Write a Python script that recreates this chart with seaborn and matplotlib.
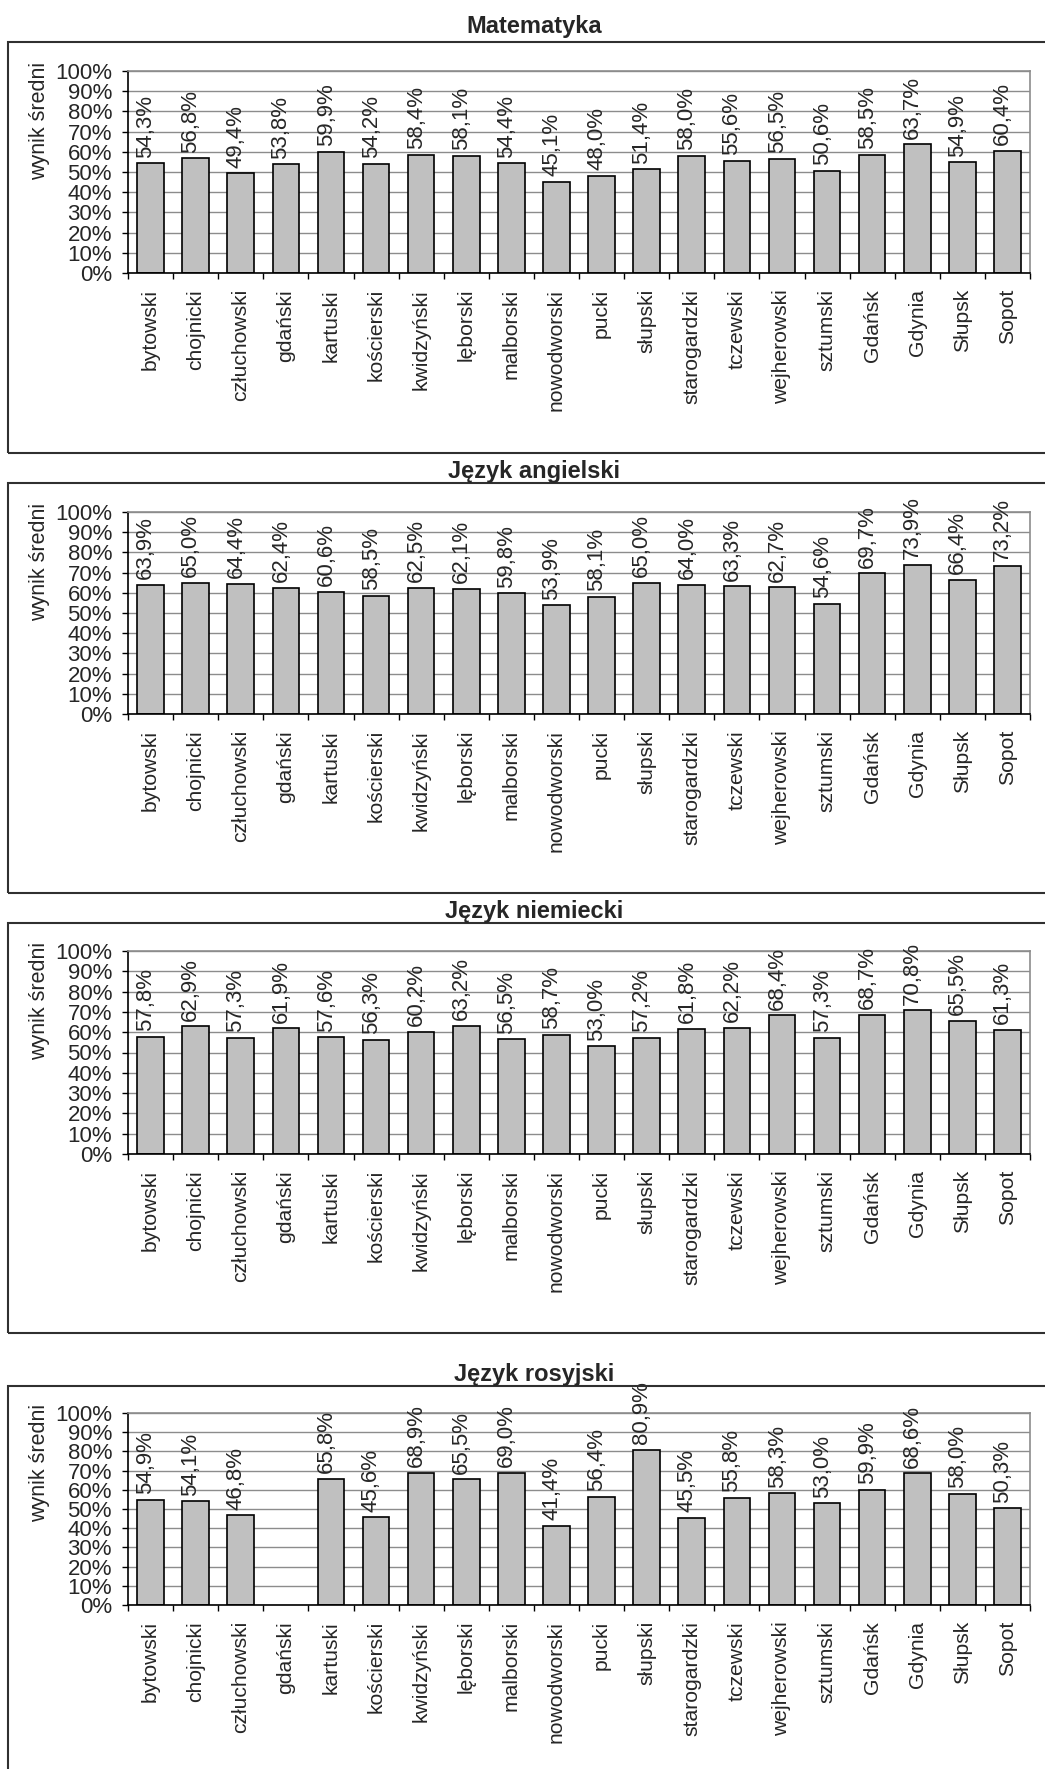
import numpy as np
import pandas as pd
import matplotlib
matplotlib.use("Agg")
import matplotlib.pyplot as plt
import seaborn as sns
from matplotlib.patches import Rectangle
from matplotlib.ticker import FuncFormatter

# Dane
POWIATY = ["bytowski", "chojnicki", "człuchowski", "gdański", "kartuski",
           "kościerski", "kwidzyński", "lęborski", "malborski", "nowodworski",
           "pucki", "słupski", "starogardzki", "tczewski", "wejherowski",
           "sztumski", "Gdańsk", "Gdynia", "Słupsk", "Sopot"]

MATEMATYKA = [54.3, 56.8, 49.4, 53.8, 59.9, 54.2, 58.4, 58.1, 54.4, 45.1,
              48.0, 51.4, 58.0, 55.6, 56.5, 50.6, 58.5, 63.7, 54.9, 60.4]
ANGIELSKI = [63.9, 65.0, 64.4, 62.4, 60.6, 58.5, 62.5, 62.1, 59.8, 53.9,
             58.1, 65.0, 64.0, 63.3, 62.7, 54.6, 69.7, 73.9, 66.4, 73.2]
NIEMIECKI = [57.8, 62.9, 57.3, 61.9, 57.6, 56.3, 60.2, 63.2, 56.5, 58.7,
             53.0, 57.2, 61.8, 62.2, 68.4, 57.3, 68.7, 70.8, 65.5, 61.3]
ROSYJSKI = [54.9, 54.1, 46.8, np.nan, 65.8, 45.6, 68.9, 65.5, 69.0, 41.4,
            56.4, 80.9, 45.5, 55.8, 58.3, 53.0, 59.9, 68.6, 58.0, 50.3]

PRZEDMIOTY = ["Matematyka", "Język angielski", "Język niemiecki", "Język rosyjski"]
WYNIKI = [MATEMATYKA, ANGIELSKI, NIEMIECKI, ROSYJSKI]

# Układ (piksele): tytuł, góra ramki, dół ramki, góra osi, dół osi
UKLAD = [
    (33, 42, 453, 71, 273),
    (478, 483, 893, 512, 714),
    (918, 923, 1333, 951, 1154),
    (1381, 1386, 1800, 1413, 1605),
]

W, H = 1045, 1769
FS_TICK = 16
FS_X = 15.2
FS_VAL = 16

sns.set_style("white")
plt.rcParams["font.family"] = ["Liberation Sans", "DejaVu Sans"]

fig = plt.figure(figsize=(W / 100, H / 100), dpi=100)


def fx(x):
    return x / W


def fy(y):
    return 1 - y / H


for nazwa, wyniki, (y_tyt, r_top, r_bot, a_top, a_bot) in zip(PRZEDMIOTY, WYNIKI, UKLAD):
    # ramka wokół wykresu
    fig.add_artist(Rectangle((fx(8), fy(r_bot)), fx(1200), r_bot / H - r_top / H,
                             transform=fig.transFigure, fill=False,
                             edgecolor="#303030", linewidth=1.5))
    fig.text(fx(534), fy(y_tyt), nazwa, ha="center", va="baseline",
             fontsize=17, fontweight="bold")

    ax = fig.add_axes([fx(128), fy(a_bot), fx(1030 - 128), (a_bot - a_top) / H])
    df = pd.DataFrame({"powiat": POWIATY, "wynik": wyniki}).dropna()
    sns.barplot(data=df, x="powiat", y="wynik", order=POWIATY, color="#C0C0C0",
                saturation=1, edgecolor="black", linewidth=1.2, width=0.59,
                errorbar=None, ax=ax)

    for i, v in enumerate(wyniki):
        if np.isnan(v):
            continue
        ax.annotate(f"{v:.1f}%".replace(".", ","), (i, v), xytext=(-3.5, 4),
                    textcoords="offset points", rotation=90, ha="center",
                    va="bottom", fontsize=FS_VAL, annotation_clip=False)

    ax.set_ylim(0, 100)
    ax.set_xlim(-0.5, len(POWIATY) - 0.5)
    ax.set_yticks(np.arange(0, 101, 10))
    ax.yaxis.set_major_formatter(FuncFormatter(lambda v, p: f"{int(v)}%"))
    ax.set_xticks(np.arange(-0.5, len(POWIATY), 1), minor=True)
    ax.set_xticklabels(POWIATY, rotation=90, fontsize=FS_X)
    ax.tick_params(axis="x", which="major", length=0, pad=11.5)
    ax.tick_params(axis="x", which="minor", length=4.5, width=1, color="black",
                   direction="out", bottom=True)
    ax.tick_params(axis="y", length=4.5, width=1, color="black", direction="out",
                   left=True, pad=7, labelsize=FS_TICK)
    ax.yaxis.grid(True, color="#8C8C8C", linewidth=1)
    ax.set_axisbelow(True)
    ax.set_xlabel("")
    ax.set_ylabel("")
    for s in ["left", "bottom"]:
        ax.spines[s].set_color("black")
        ax.spines[s].set_linewidth(1.2)
    for s in ["top", "right"]:
        ax.spines[s].set_color("#8C8C8C")
        ax.spines[s].set_linewidth(1.2)

    fig.text(fx(40), fy(a_top - 9), "wynik średni", rotation=90, ha="center",
             va="top", fontsize=15.5)

fig.savefig("out.png", dpi=100)
